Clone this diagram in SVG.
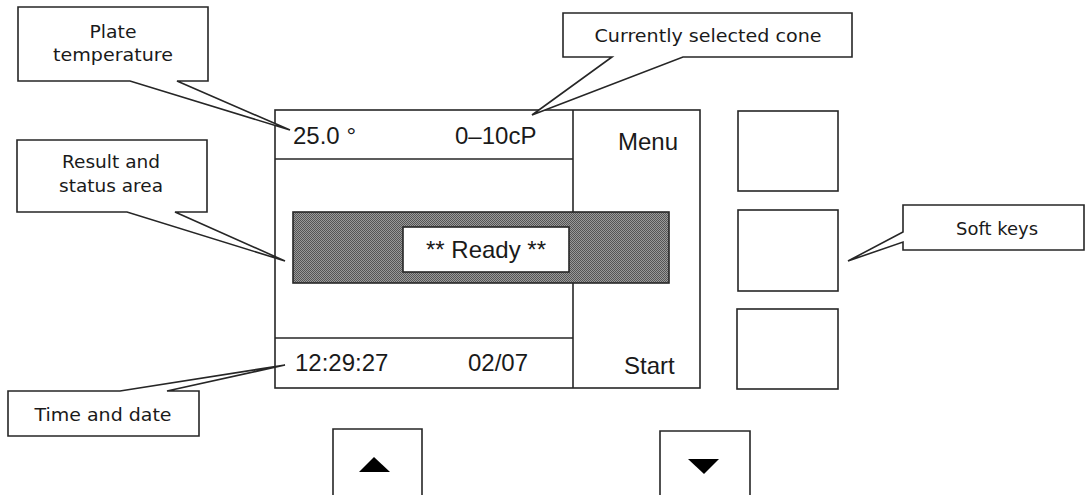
<svg xmlns="http://www.w3.org/2000/svg" width="1086" height="495" viewBox="0 0 1086 495">
<style>
.ln{fill:none;stroke:#262626;stroke-width:1.6;stroke-linejoin:miter}
.box{fill:#fff;stroke:#262626;stroke-width:1.6}
.co{fill:#fff;stroke:#262626;stroke-width:1.6;stroke-linejoin:miter}
.dt{font-family:"Liberation Sans",Arial,sans-serif;font-size:24px;fill:#1a1a1a}
.lb{font-family:"DejaVu Sans","Liberation Sans",sans-serif;font-size:18px;fill:#1a1a1a;text-anchor:middle}
.tri{fill:#000}
</style>
<defs>
<pattern id="dither" width="2" height="2" patternUnits="userSpaceOnUse">
<rect width="2" height="2" fill="#9a9a9a"/>
<rect width="1" height="1" fill="#555"/>
<rect x="1" y="1" width="1" height="1" fill="#555"/>
</pattern>
</defs>
<rect width="1086" height="495" fill="#fff"/>

<g id="display">
<rect class="box" x="275" y="110" width="425" height="278"/>
<line class="ln" x1="275" y1="159" x2="573" y2="159"/>
<line class="ln" x1="275" y1="338" x2="573" y2="338"/>
<line class="ln" x1="573" y1="110" x2="573" y2="388"/>
<text class="dt" x="293" y="144">25.0 °</text>
<text class="dt" x="455" y="144">0–10cP</text>
<text class="dt" x="618" y="150">Menu</text>
<text class="dt" x="295" y="371">12:29:27</text>
<text class="dt" x="468" y="371">02/07</text>
<text class="dt" x="624" y="374">Start</text>
</g>

<g id="status-area">
<rect x="293" y="212" width="376" height="71" fill="url(#dither)" stroke="#262626" stroke-width="1.6"/>
<rect class="box" x="403" y="227" width="166" height="45"/>
<text class="dt" x="486" y="258" text-anchor="middle">** Ready **</text>
</g>

<g id="softkey-1"><rect class="box" x="738" y="111" width="100" height="80"/></g>
<g id="softkey-2"><rect class="box" x="738" y="210" width="100" height="81"/></g>
<g id="softkey-3"><rect class="box" x="737" y="309" width="101" height="80"/></g>

<g id="key-up">
<path class="ln" d="M333,496 V429 H422 V496"/>
<polygon class="tri" points="359,472 390,472 374,457"/>
</g>
<g id="key-down">
<path class="ln" d="M660,496 V431 H750 V496"/>
<polygon class="tri" points="688,459 719,459 704,474"/>
</g>

<g id="connectors">
<g id="callout-plate">
<path class="co" d="M18,7 H208 V81 H177 L290,130 L130,81 H18 Z"/>
<text class="lb" x="113" y="38" textLength="47" lengthAdjust="spacingAndGlyphs">Plate</text>
<text class="lb" x="113" y="61" textLength="120" lengthAdjust="spacingAndGlyphs">temperature</text>
</g>
<g id="callout-cone">
<path class="co" d="M563,13 H852 V57 H683 L532,115 L612,57 H563 Z"/>
<text class="lb" x="708" y="42" textLength="227" lengthAdjust="spacingAndGlyphs">Currently selected cone</text>
</g>
<g id="callout-result">
<path class="co" d="M17,140 H207 V212 H175 L285,261 L127,212 H17 Z"/>
<text class="lb" x="111" y="168" textLength="98" lengthAdjust="spacingAndGlyphs">Result and</text>
<text class="lb" x="111" y="192" textLength="104" lengthAdjust="spacingAndGlyphs">status area</text>
</g>
<g id="callout-time">
<path class="co" d="M8,391 H120 L285,365 L167,391 H199 V436 H8 Z"/>
<text class="lb" x="103" y="421" textLength="137" lengthAdjust="spacingAndGlyphs">Time and date</text>
</g>
<g id="callout-softkeys">
<path class="co" d="M903,205 H1084 V250 H903 V242 L848,261 L903,232 Z"/>
<text class="lb" x="997" y="235" textLength="82" lengthAdjust="spacingAndGlyphs">Soft keys</text>
</g>
</g>
</svg>
